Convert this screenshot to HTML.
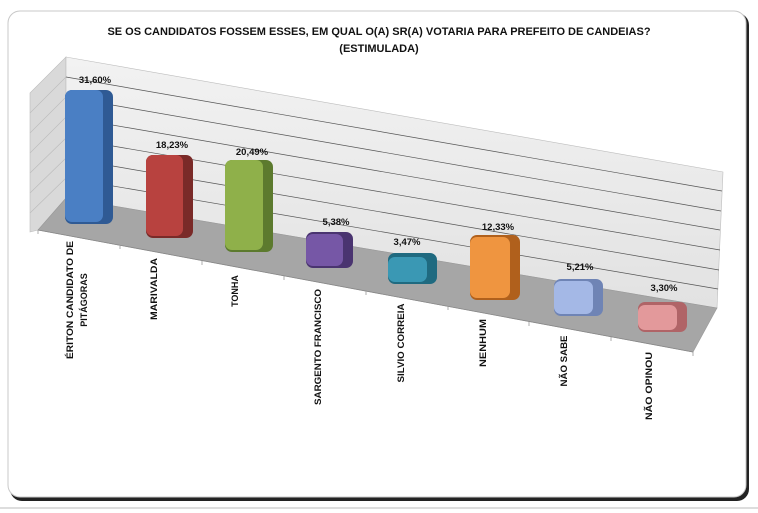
<!DOCTYPE html>
<html><head><meta charset="utf-8"><style>
html,body{margin:0;padding:0;background:#fff;}
svg{display:block;font-family:"Liberation Sans",sans-serif;}
</style></head><body>
<svg width="758" height="513" viewBox="0 0 758 513" xmlns="http://www.w3.org/2000/svg">
<defs>
<linearGradient id="wall" x1="0" y1="0" x2="0" y2="1"><stop offset="0" stop-color="#f2f2f2"/><stop offset="1" stop-color="#e2e2e2"/></linearGradient>
</defs>
<rect x="10" y="13" width="739" height="488" rx="12" fill="#222"/>
<rect x="8" y="11" width="738" height="486" rx="12" fill="#fff" stroke="#c8c8c8" stroke-width="1"/>
<line x1="0" y1="508" x2="758" y2="508" stroke="#bbb"/>
<text x="379" y="35" text-anchor="middle" font-size="11" font-weight="bold" fill="#111">SE OS CANDIDATOS FOSSEM ESSES, EM QUAL O(A) SR(A) VOTARIA PARA PREFEITO DE CANDEIAS?</text>
<text x="379" y="52" text-anchor="middle" font-size="11" font-weight="bold" fill="#111">(ESTIMULADA)</text>
<!-- side wall -->
<polygon points="30,93 66,57 66,198 38,230 30,232" fill="#d9d9d9" stroke="#bdbdbd" stroke-width="0.6"/>
<!-- back wall -->
<polygon points="66,57 723,172 717,308 66,198" fill="url(#wall)" stroke="#bdbdbd" stroke-width="0.6"/>
<g stroke="#555" stroke-width="0.7" fill="none">
<line x1="66" y1="77" x2="722" y2="191"/>
<line x1="66" y1="97" x2="721" y2="211"/>
<line x1="66" y1="117" x2="720" y2="230"/>
<line x1="66" y1="138" x2="720" y2="250"/>
<line x1="66" y1="158" x2="719" y2="270"/>
<line x1="66" y1="178" x2="718" y2="289"/>
</g>
<g stroke="#bbb" stroke-width="0.6" fill="none">
<line x1="30" y1="113" x2="66" y2="77"/><line x1="30" y1="133" x2="66" y2="97"/><line x1="30" y1="153" x2="66" y2="117"/><line x1="30" y1="173" x2="66" y2="138"/><line x1="30" y1="193" x2="66" y2="158"/><line x1="30" y1="213" x2="66" y2="178"/>
</g>
<!-- floor -->
<polygon points="66,198 717,308 693,352 38,230" fill="#a6a6a6" stroke="#999" stroke-width="0.6"/>
<line x1="38" y1="230" x2="693" y2="352" stroke="#888" stroke-width="0.8"/>
<g stroke="#999" stroke-width="0.8">
<line x1="38" y1="230" x2="38" y2="234"/><line x1="120" y1="245" x2="120" y2="249"/><line x1="202" y1="261" x2="202" y2="265"/><line x1="284" y1="276" x2="284" y2="280"/><line x1="366" y1="291" x2="366" y2="295"/><line x1="448" y1="306" x2="448" y2="310"/><line x1="529" y1="322" x2="529" y2="326"/><line x1="611" y1="337" x2="611" y2="341"/><line x1="693" y1="352" x2="693" y2="356"/>
</g>
<!-- bars -->
<g>
<rect x="65" y="90" width="48" height="134" rx="7" fill="#2f5a94"/><rect x="65" y="90" width="38" height="132" rx="7" fill="#4a7fc4"/>
<rect x="146" y="155" width="47" height="83" rx="7" fill="#7a2a28"/><rect x="146" y="155" width="37" height="81" rx="7" fill="#b8423f"/>
<rect x="225" y="160" width="48" height="92" rx="7" fill="#5c7a2e"/><rect x="225" y="160" width="38" height="90" rx="7" fill="#8fb04a"/>
<rect x="306" y="232" width="47" height="36" rx="7" fill="#4a3470"/><rect x="306" y="234" width="37" height="32" rx="7" fill="#7657a6"/>
<rect x="388" y="253" width="49" height="31" rx="7" fill="#1f6a80"/><rect x="388" y="257" width="39" height="25" rx="7" fill="#3a98b4"/>
<rect x="470" y="235" width="50" height="65" rx="7" fill="#b0601c"/><rect x="470" y="237" width="40" height="61" rx="7" fill="#ef9540"/>
<rect x="554" y="279" width="49" height="37" rx="7" fill="#6f84b5"/><rect x="554" y="281" width="39" height="33" rx="7" fill="#a4b8e6"/>
<rect x="638" y="302" width="49" height="30" rx="7" fill="#b06467"/><rect x="638" y="305" width="39" height="25" rx="7" fill="#e3999b"/>
</g>
<g font-size="9.5" font-weight="bold" fill="#111" text-anchor="middle">
<text x="95" y="83">31,60%</text><text x="172" y="148">18,23%</text><text x="252" y="155">20,49%</text><text x="336" y="225">5,38%</text><text x="407" y="245">3,47%</text><text x="498" y="230">12,33%</text><text x="580" y="270">5,21%</text><text x="664" y="291">3,30%</text>
</g>
<g font-size="9" font-weight="bold" fill="#111" text-anchor="middle">
<text transform="translate(73,300) rotate(-90)" textLength="118" lengthAdjust="spacingAndGlyphs">ÉRITON CANDIDATO DE</text>
<text transform="translate(87,300) rotate(-90)">PITÁGORAS</text>
<text transform="translate(157,289) rotate(-90)" textLength="62" lengthAdjust="spacingAndGlyphs">MARIVALDA</text>
<text transform="translate(238,291) rotate(-90)">TONHA</text>
<text transform="translate(321,347) rotate(-90)" textLength="116" lengthAdjust="spacingAndGlyphs">SARGENTO FRANCISCO</text>
<text transform="translate(404,343) rotate(-90)" textLength="79" lengthAdjust="spacingAndGlyphs">SILVIO CORREIA</text>
<text transform="translate(486,343) rotate(-90)" textLength="48" lengthAdjust="spacingAndGlyphs">NENHUM</text>
<text transform="translate(567,361) rotate(-90)" textLength="51" lengthAdjust="spacingAndGlyphs">NÃO SABE</text>
<text transform="translate(652,386) rotate(-90)" textLength="68" lengthAdjust="spacingAndGlyphs">NÃO OPINOU</text>
</g>
</svg>
</body></html>
